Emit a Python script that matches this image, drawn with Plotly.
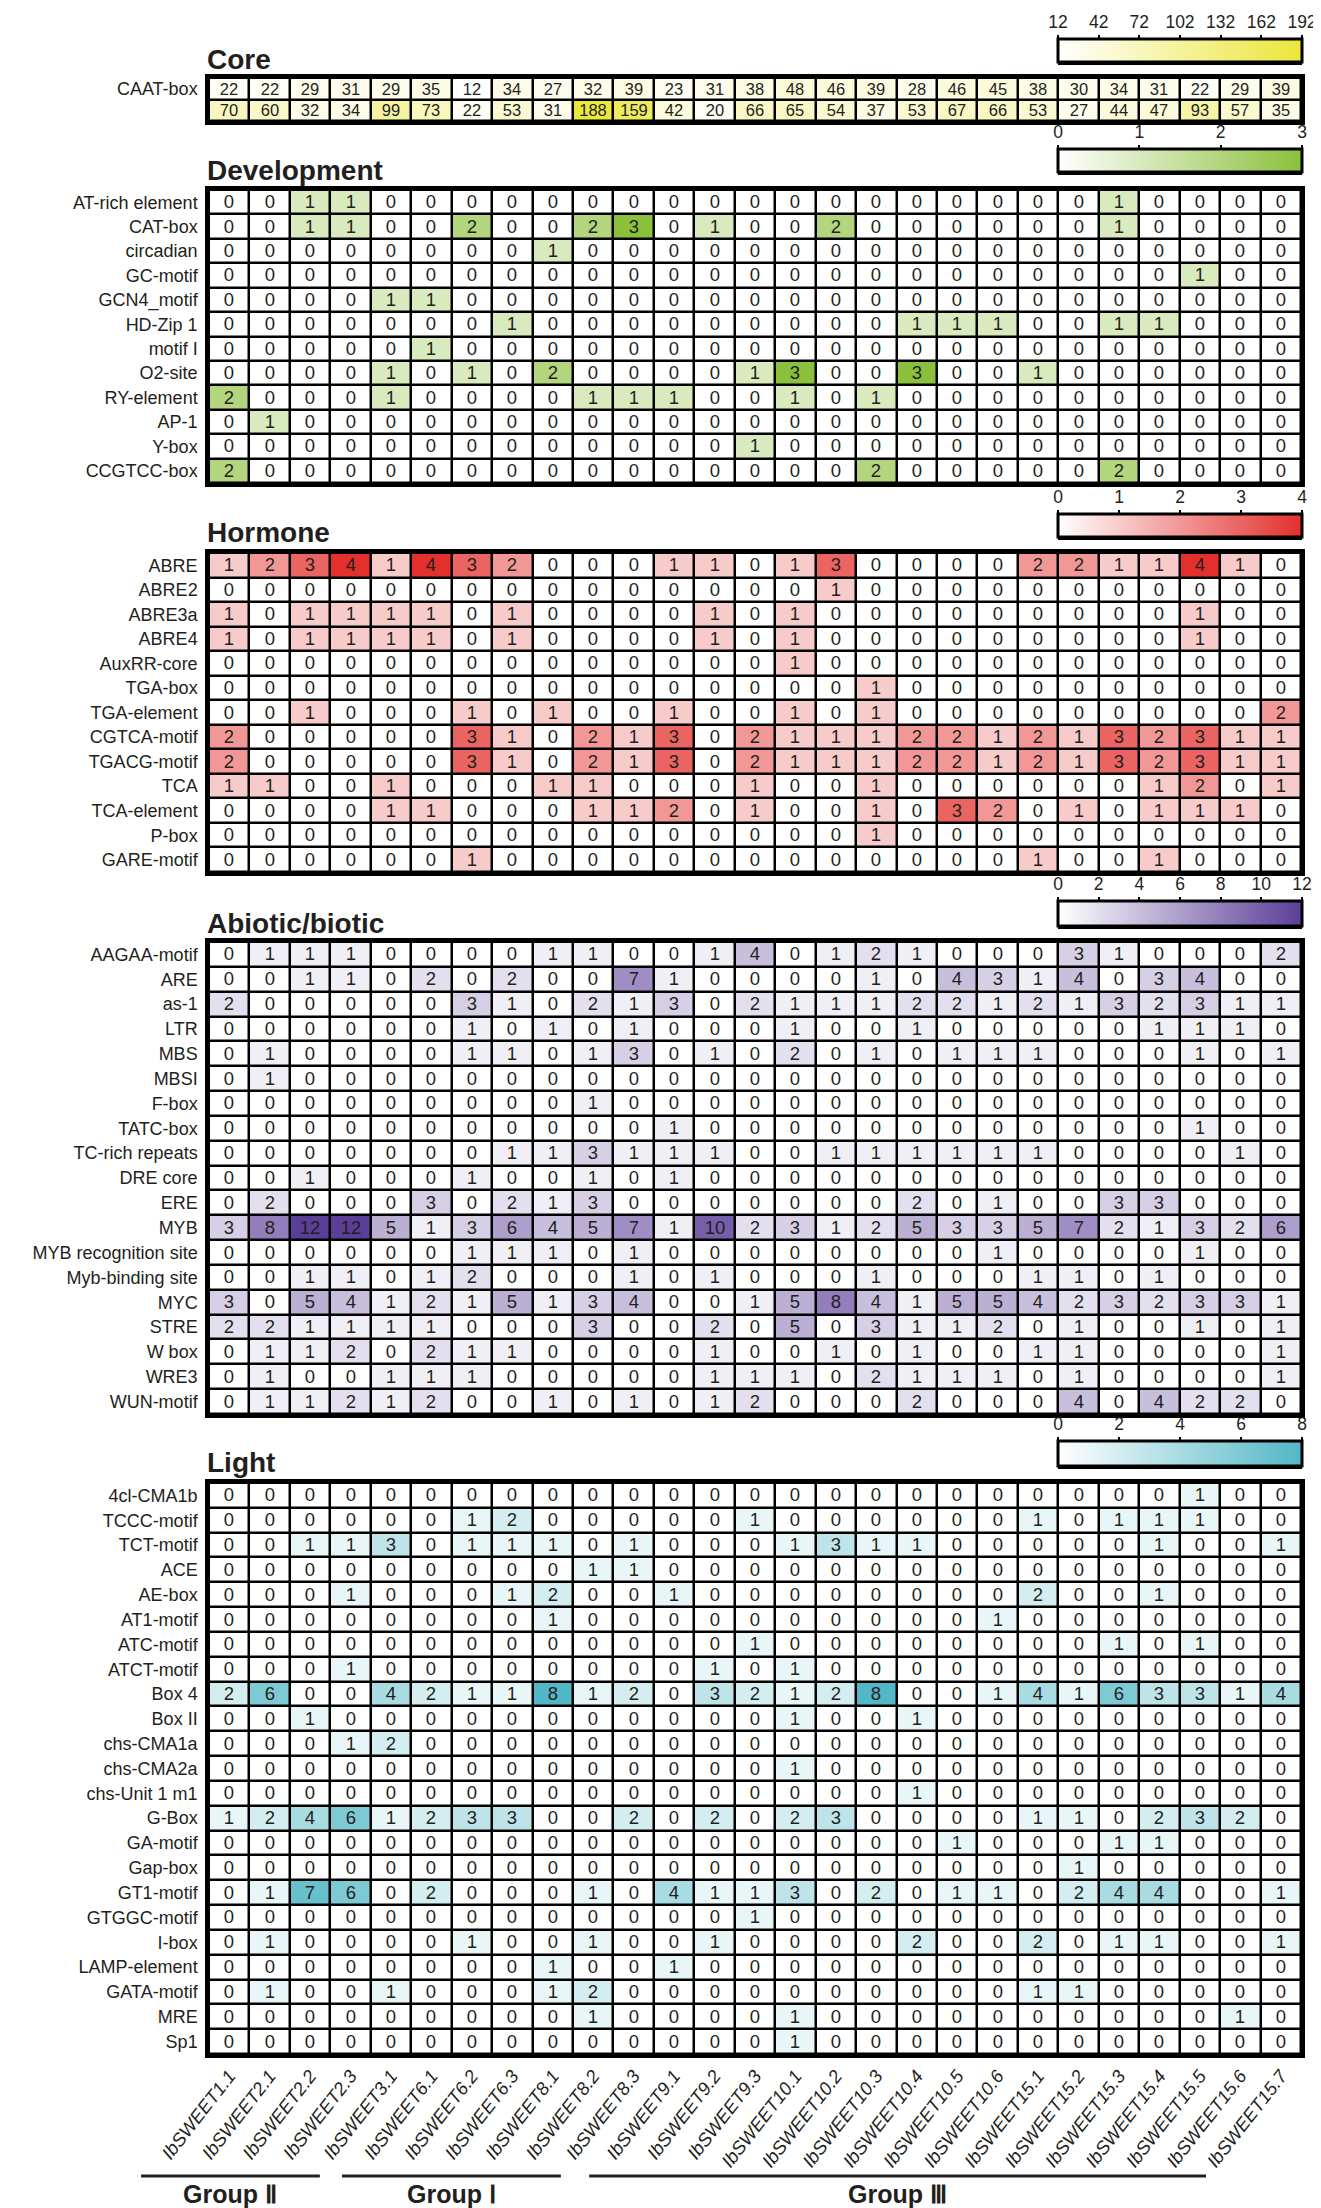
import plotly.graph_objects as go

# ---------------- data ----------------
genes = ["IbSWEET1.1", "IbSWEET2.1", "IbSWEET2.2", "IbSWEET2.3", "IbSWEET3.1", "IbSWEET6.1",
         "IbSWEET6.2", "IbSWEET6.3", "IbSWEET8.1", "IbSWEET8.2", "IbSWEET8.3", "IbSWEET9.1",
         "IbSWEET9.2", "IbSWEET9.3", "IbSWEET10.1", "IbSWEET10.2", "IbSWEET10.3", "IbSWEET10.4",
         "IbSWEET10.5", "IbSWEET10.6", "IbSWEET15.1", "IbSWEET15.2", "IbSWEET15.3", "IbSWEET15.4",
         "IbSWEET15.5", "IbSWEET15.6", "IbSWEET15.7"]

core_rows = ["CAAT-box", "TATA-box"]
core_vals = [
    [22, 22, 29, 31, 29, 35, 12, 34, 27, 32, 39, 23, 31, 38, 48, 46, 39, 28, 46, 45, 38, 30, 34, 31, 22, 29, 39],
    [70, 60, 32, 34, 99, 73, 22, 53, 31, 188, 159, 42, 20, 66, 65, 54, 37, 53, 67, 66, 53, 27, 44, 47, 93, 57, 35],
]
core_ticks = [12, 42, 72, 102, 132, 162, 192]

dev_rows = ["AT-rich element", "CAT-box", "circadian", "GC-motif", "GCN4_motif", "HD-Zip 1",
            "motif I", "O2-site", "RY-element", "AP-1", "Y-box", "CCGTCC-box"]
dev_vals = [
    [0, 0, 1, 1, 0, 0, 0, 0, 0, 0, 0, 0, 0, 0, 0, 0, 0, 0, 0, 0, 0, 0, 1, 0, 0, 0, 0],
    [0, 0, 1, 1, 0, 0, 2, 0, 0, 2, 3, 0, 1, 0, 0, 2, 0, 0, 0, 0, 0, 0, 1, 0, 0, 0, 0],
    [0, 0, 0, 0, 0, 0, 0, 0, 1, 0, 0, 0, 0, 0, 0, 0, 0, 0, 0, 0, 0, 0, 0, 0, 0, 0, 0],
    [0, 0, 0, 0, 0, 0, 0, 0, 0, 0, 0, 0, 0, 0, 0, 0, 0, 0, 0, 0, 0, 0, 0, 0, 1, 0, 0],
    [0, 0, 0, 0, 1, 1, 0, 0, 0, 0, 0, 0, 0, 0, 0, 0, 0, 0, 0, 0, 0, 0, 0, 0, 0, 0, 0],
    [0, 0, 0, 0, 0, 0, 0, 1, 0, 0, 0, 0, 0, 0, 0, 0, 0, 1, 1, 1, 0, 0, 1, 1, 0, 0, 0],
    [0, 0, 0, 0, 0, 1, 0, 0, 0, 0, 0, 0, 0, 0, 0, 0, 0, 0, 0, 0, 0, 0, 0, 0, 0, 0, 0],
    [0, 0, 0, 0, 1, 0, 1, 0, 2, 0, 0, 0, 0, 1, 3, 0, 0, 3, 0, 0, 1, 0, 0, 0, 0, 0, 0],
    [2, 0, 0, 0, 1, 0, 0, 0, 0, 1, 1, 1, 0, 0, 1, 0, 1, 0, 0, 0, 0, 0, 0, 0, 0, 0, 0],
    [0, 1, 0, 0, 0, 0, 0, 0, 0, 0, 0, 0, 0, 0, 0, 0, 0, 0, 0, 0, 0, 0, 0, 0, 0, 0, 0],
    [0, 0, 0, 0, 0, 0, 0, 0, 0, 0, 0, 0, 0, 1, 0, 0, 0, 0, 0, 0, 0, 0, 0, 0, 0, 0, 0],
    [2, 0, 0, 0, 0, 0, 0, 0, 0, 0, 0, 0, 0, 0, 0, 0, 2, 0, 0, 0, 0, 0, 2, 0, 0, 0, 0],
]
dev_ticks = [0, 1, 2, 3]

hormone_rows = ["ABRE", "ABRE2", "ABRE3a", "ABRE4", "AuxRR-core", "TGA-box", "TGA-element",
                "CGTCA-motif", "TGACG-motif", "TCA", "TCA-element", "P-box", "GARE-motif"]
hormone_vals = [
    [1, 2, 3, 4, 1, 4, 3, 2, 0, 0, 0, 1, 1, 0, 1, 3, 0, 0, 0, 0, 2, 2, 1, 1, 4, 1, 0],
    [0, 0, 0, 0, 0, 0, 0, 0, 0, 0, 0, 0, 0, 0, 0, 1, 0, 0, 0, 0, 0, 0, 0, 0, 0, 0, 0],
    [1, 0, 1, 1, 1, 1, 0, 1, 0, 0, 0, 0, 1, 0, 1, 0, 0, 0, 0, 0, 0, 0, 0, 0, 1, 0, 0],
    [1, 0, 1, 1, 1, 1, 0, 1, 0, 0, 0, 0, 1, 0, 1, 0, 0, 0, 0, 0, 0, 0, 0, 0, 1, 0, 0],
    [0, 0, 0, 0, 0, 0, 0, 0, 0, 0, 0, 0, 0, 0, 1, 0, 0, 0, 0, 0, 0, 0, 0, 0, 0, 0, 0],
    [0, 0, 0, 0, 0, 0, 0, 0, 0, 0, 0, 0, 0, 0, 0, 0, 1, 0, 0, 0, 0, 0, 0, 0, 0, 0, 0],
    [0, 0, 1, 0, 0, 0, 1, 0, 1, 0, 0, 1, 0, 0, 1, 0, 1, 0, 0, 0, 0, 0, 0, 0, 0, 0, 2],
    [2, 0, 0, 0, 0, 0, 3, 1, 0, 2, 1, 3, 0, 2, 1, 1, 1, 2, 2, 1, 2, 1, 3, 2, 3, 1, 1],
    [2, 0, 0, 0, 0, 0, 3, 1, 0, 2, 1, 3, 0, 2, 1, 1, 1, 2, 2, 1, 2, 1, 3, 2, 3, 1, 1],
    [1, 1, 0, 0, 1, 0, 0, 0, 1, 1, 0, 0, 0, 1, 0, 0, 1, 0, 0, 0, 0, 0, 0, 1, 2, 0, 1],
    [0, 0, 0, 0, 1, 1, 0, 0, 0, 1, 1, 2, 0, 1, 0, 0, 1, 0, 3, 2, 0, 1, 0, 1, 1, 1, 0],
    [0, 0, 0, 0, 0, 0, 0, 0, 0, 0, 0, 0, 0, 0, 0, 0, 1, 0, 0, 0, 0, 0, 0, 0, 0, 0, 0],
    [0, 0, 0, 0, 0, 0, 1, 0, 0, 0, 0, 0, 0, 0, 0, 0, 0, 0, 0, 0, 1, 0, 0, 1, 0, 0, 0],
]
hormone_ticks = [0, 1, 2, 3, 4]

abiotic_rows = ["AAGAA-motif", "ARE", "as-1", "LTR", "MBS", "MBSI", "F-box", "TATC-box",
                "TC-rich repeats", "DRE core", "ERE", "MYB", "MYB recognition site",
                "Myb-binding site", "MYC", "STRE", "W box", "WRE3", "WUN-motif"]
abiotic_vals = [
    [0, 1, 1, 1, 0, 0, 0, 0, 1, 1, 0, 0, 1, 4, 0, 1, 2, 1, 0, 0, 0, 3, 1, 0, 0, 0, 2],
    [0, 0, 1, 1, 0, 2, 0, 2, 0, 0, 7, 1, 0, 0, 0, 0, 1, 0, 4, 3, 1, 4, 0, 3, 4, 0, 0],
    [2, 0, 0, 0, 0, 0, 3, 1, 0, 2, 1, 3, 0, 2, 1, 1, 1, 2, 2, 1, 2, 1, 3, 2, 3, 1, 1],
    [0, 0, 0, 0, 0, 0, 1, 0, 1, 0, 1, 0, 0, 0, 1, 0, 0, 1, 0, 0, 0, 0, 0, 1, 1, 1, 0],
    [0, 1, 0, 0, 0, 0, 1, 1, 0, 1, 3, 0, 1, 0, 2, 0, 1, 0, 1, 1, 1, 0, 0, 0, 1, 0, 1],
    [0, 1, 0, 0, 0, 0, 0, 0, 0, 0, 0, 0, 0, 0, 0, 0, 0, 0, 0, 0, 0, 0, 0, 0, 0, 0, 0],
    [0, 0, 0, 0, 0, 0, 0, 0, 0, 1, 0, 0, 0, 0, 0, 0, 0, 0, 0, 0, 0, 0, 0, 0, 0, 0, 0],
    [0, 0, 0, 0, 0, 0, 0, 0, 0, 0, 0, 1, 0, 0, 0, 0, 0, 0, 0, 0, 0, 0, 0, 0, 1, 0, 0],
    [0, 0, 0, 0, 0, 0, 0, 1, 1, 3, 1, 1, 1, 0, 0, 1, 1, 1, 1, 1, 1, 0, 0, 0, 0, 1, 0],
    [0, 0, 1, 0, 0, 0, 1, 0, 0, 1, 0, 1, 0, 0, 0, 0, 0, 0, 0, 0, 0, 0, 0, 0, 0, 0, 0],
    [0, 2, 0, 0, 0, 3, 0, 2, 1, 3, 0, 0, 0, 0, 0, 0, 0, 2, 0, 1, 0, 0, 3, 3, 0, 0, 0],
    [3, 8, 12, 12, 5, 1, 3, 6, 4, 5, 7, 1, 10, 2, 3, 1, 2, 5, 3, 3, 5, 7, 2, 1, 3, 2, 6],
    [0, 0, 0, 0, 0, 0, 1, 1, 1, 0, 1, 0, 0, 0, 0, 0, 0, 0, 0, 1, 0, 0, 0, 0, 1, 0, 0],
    [0, 0, 1, 1, 0, 1, 2, 0, 0, 0, 1, 0, 1, 0, 0, 0, 1, 0, 0, 0, 1, 1, 0, 1, 0, 0, 0],
    [3, 0, 5, 4, 1, 2, 1, 5, 1, 3, 4, 0, 0, 1, 5, 8, 4, 1, 5, 5, 4, 2, 3, 2, 3, 3, 1],
    [2, 2, 1, 1, 1, 1, 0, 0, 0, 3, 0, 0, 2, 0, 5, 0, 3, 1, 1, 2, 0, 1, 0, 0, 1, 0, 1],
    [0, 1, 1, 2, 0, 2, 1, 1, 0, 0, 0, 0, 1, 0, 0, 1, 0, 1, 0, 0, 1, 1, 0, 0, 0, 0, 1],
    [0, 1, 0, 0, 1, 1, 1, 0, 0, 0, 0, 0, 1, 1, 1, 0, 2, 1, 1, 1, 0, 1, 0, 0, 0, 0, 1],
    [0, 1, 1, 2, 1, 2, 0, 0, 1, 0, 1, 0, 1, 2, 0, 0, 0, 2, 0, 0, 0, 4, 0, 4, 2, 2, 0],
]
abiotic_ticks = [0, 2, 4, 6, 8, 10, 12]

light_rows = ["4cl-CMA1b", "TCCC-motif", "TCT-motif", "ACE", "AE-box", "AT1-motif", "ATC-motif",
              "ATCT-motif", "Box 4", "Box II", "chs-CMA1a", "chs-CMA2a", "chs-Unit 1 m1", "G-Box",
              "GA-motif", "Gap-box", "GT1-motif", "GTGGC-motif", "I-box", "LAMP-element",
              "GATA-motif", "MRE", "Sp1"]
light_vals = [
    [0, 0, 0, 0, 0, 0, 0, 0, 0, 0, 0, 0, 0, 0, 0, 0, 0, 0, 0, 0, 0, 0, 0, 0, 1, 0, 0],
    [0, 0, 0, 0, 0, 0, 1, 2, 0, 0, 0, 0, 0, 1, 0, 0, 0, 0, 0, 0, 1, 0, 1, 1, 1, 0, 0],
    [0, 0, 1, 1, 3, 0, 1, 1, 1, 0, 1, 0, 0, 0, 1, 3, 1, 1, 0, 0, 0, 0, 0, 1, 0, 0, 1],
    [0, 0, 0, 0, 0, 0, 0, 0, 0, 1, 1, 0, 0, 0, 0, 0, 0, 0, 0, 0, 0, 0, 0, 0, 0, 0, 0],
    [0, 0, 0, 1, 0, 0, 0, 1, 2, 0, 0, 1, 0, 0, 0, 0, 0, 0, 0, 0, 2, 0, 0, 1, 0, 0, 0],
    [0, 0, 0, 0, 0, 0, 0, 0, 1, 0, 0, 0, 0, 0, 0, 0, 0, 0, 0, 1, 0, 0, 0, 0, 0, 0, 0],
    [0, 0, 0, 0, 0, 0, 0, 0, 0, 0, 0, 0, 0, 1, 0, 0, 0, 0, 0, 0, 0, 0, 1, 0, 1, 0, 0],
    [0, 0, 0, 1, 0, 0, 0, 0, 0, 0, 0, 0, 1, 0, 1, 0, 0, 0, 0, 0, 0, 0, 0, 0, 0, 0, 0],
    [2, 6, 0, 0, 4, 2, 1, 1, 8, 1, 2, 0, 3, 2, 1, 2, 8, 0, 0, 1, 4, 1, 6, 3, 3, 1, 4],
    [0, 0, 1, 0, 0, 0, 0, 0, 0, 0, 0, 0, 0, 0, 1, 0, 0, 1, 0, 0, 0, 0, 0, 0, 0, 0, 0],
    [0, 0, 0, 1, 2, 0, 0, 0, 0, 0, 0, 0, 0, 0, 0, 0, 0, 0, 0, 0, 0, 0, 0, 0, 0, 0, 0],
    [0, 0, 0, 0, 0, 0, 0, 0, 0, 0, 0, 0, 0, 0, 1, 0, 0, 0, 0, 0, 0, 0, 0, 0, 0, 0, 0],
    [0, 0, 0, 0, 0, 0, 0, 0, 0, 0, 0, 0, 0, 0, 0, 0, 0, 1, 0, 0, 0, 0, 0, 0, 0, 0, 0],
    [1, 2, 4, 6, 1, 2, 3, 3, 0, 0, 2, 0, 2, 0, 2, 3, 0, 0, 0, 0, 1, 1, 0, 2, 3, 2, 0],
    [0, 0, 0, 0, 0, 0, 0, 0, 0, 0, 0, 0, 0, 0, 0, 0, 0, 0, 1, 0, 0, 0, 1, 1, 0, 0, 0],
    [0, 0, 0, 0, 0, 0, 0, 0, 0, 0, 0, 0, 0, 0, 0, 0, 0, 0, 0, 0, 0, 1, 0, 0, 0, 0, 0],
    [0, 1, 7, 6, 0, 2, 0, 0, 0, 1, 0, 4, 1, 1, 3, 0, 2, 0, 1, 1, 0, 2, 4, 4, 0, 0, 1],
    [0, 0, 0, 0, 0, 0, 0, 0, 0, 0, 0, 0, 0, 1, 0, 0, 0, 0, 0, 0, 0, 0, 0, 0, 0, 0, 0],
    [0, 1, 0, 0, 0, 0, 1, 0, 0, 1, 0, 0, 1, 0, 0, 0, 0, 2, 0, 0, 2, 0, 1, 1, 0, 0, 1],
    [0, 0, 0, 0, 0, 0, 0, 0, 1, 0, 0, 1, 0, 0, 0, 0, 0, 0, 0, 0, 0, 0, 0, 0, 0, 0, 0],
    [0, 1, 0, 0, 1, 0, 0, 0, 1, 2, 0, 0, 0, 0, 0, 0, 0, 0, 0, 0, 1, 1, 0, 0, 0, 0, 0],
    [0, 0, 0, 0, 0, 0, 0, 0, 0, 1, 0, 0, 0, 0, 1, 0, 0, 0, 0, 0, 0, 0, 0, 0, 0, 1, 0],
    [0, 0, 0, 0, 0, 0, 0, 0, 0, 0, 0, 0, 0, 0, 1, 0, 0, 0, 0, 0, 0, 0, 0, 0, 0, 0, 0],
]
light_ticks = [0, 2, 4, 6, 8]

group_names = ["Group Ⅱ", "Group Ⅰ", "Group Ⅲ"]

# ---------------- layout (pixels) ----------------
W, H = 1321, 2208
GX0, GX1 = 201, 1293          # heatmap grid x extent
CBX0, CBX1 = 1050, 1294       # colour-bar x extent
FONT = "Liberation Sans, Arial, sans-serif"
INK = "#231f20"

sections = [
    dict(title="Core", rows=core_rows, vals=core_vals, color="#ebe63a", lo=12, hi=192,
         ticks=core_ticks, grid=(70, 113), cbar=(34, 57), ty=52, fs=16.5),
    dict(title="Development", rows=dev_rows, vals=dev_vals, color="#8bc03c", lo=0, hi=3,
         ticks=dev_ticks, grid=(182, 475), cbar=(144, 167), ty=162, fs=18.5),
    dict(title="Hormone", rows=hormone_rows, vals=hormone_vals, color="#e3302d", lo=0, hi=4,
         ticks=hormone_ticks, grid=(545, 864), cbar=(509, 532), ty=524, fs=18.5),
    dict(title="Abiotic/biotic", rows=abiotic_rows, vals=abiotic_vals, color="#5b3e98", lo=0, hi=12,
         ticks=abiotic_ticks, grid=(934, 1406), cbar=(896, 921), ty=915, fs=18.5),
    dict(title="Light", rows=light_rows, vals=light_vals, color="#52b7c6", lo=0, hi=8,
         ticks=light_ticks, grid=(1475, 2046), cbar=(1436, 1461), ty=1454, fs=18.5),
]


def px_x(p):
    return p / W


def px_y(p):
    return 1 - p / H


def ax_id(k):
    return "" if k == 1 else str(k)


fig = go.Figure()
layout = dict(width=W, height=H, margin=dict(l=0, r=0, t=0, b=0, pad=0), autosize=False,
              paper_bgcolor="white", plot_bgcolor="black", showlegend=False,
              font=dict(family=FONT, color=INK))
annotations = []
shapes = []
n = len(sections)

for i, s in enumerate(sections, start=1):
    scale = [[0, "#ffffff"], [1, s["color"]]]
    c0, c1 = s["cbar"]
    fig.add_trace(go.Heatmap(
        z=s["vals"], x=genes, y=s["rows"], colorscale=scale, zmin=s["lo"], zmax=s["hi"],
        xgap=2.5, ygap=2.5, texttemplate="%{z}",
        textfont=dict(size=s["fs"], color=INK, family=FONT),
        xaxis="x" + ax_id(i), yaxis="y" + ax_id(i), hoverinfo="skip",
        showscale=True,
        colorbar=dict(orientation="h", x=px_x(CBX0), xanchor="left", y=px_y(c1),
                      yanchor="bottom", len=CBX1 - CBX0, lenmode="pixels",
                      thickness=c1 - c0, thicknessmode="pixels", xpad=0, ypad=0,
                      outlinewidth=3, outlinecolor="black", showticklabels=False,
                      ticks="", borderwidth=0)))
    last = (i == n)
    xa = dict(domain=[px_x(GX0), px_x(GX1)], anchor="y" + ax_id(i),
              range=[-0.5, len(genes) - 0.5], showgrid=False, zeroline=False,
              showline=True, mirror=True, linecolor="black", linewidth=3.5, ticks="",
              showticklabels=last, fixedrange=True, automargin=False)
    if last:
        xa.update(tickmode="array", tickvals=genes,
                  ticktext=["<i>" + g + "</i>" for g in genes],
                  tickangle=-52, tickfont=dict(size=18.5, family=FONT, color=INK))
    ya = dict(domain=[px_y(s["grid"][1]), px_y(s["grid"][0])],
              anchor="x" + ax_id(i), autorange="reversed",
              showgrid=False, zeroline=False, showline=True, mirror=True,
              linecolor="black", linewidth=3.5, ticks="", fixedrange=True,
              tickfont=dict(size=18, family=FONT, color=INK),
              ticklabelstandoff=4, automargin=False)
    layout["xaxis" + ax_id(i)] = xa
    layout["yaxis" + ax_id(i)] = ya

    # tick scale above each colour bar: an empty trace keeps the aligned axes drawn
    j = i + n
    fig.add_trace(go.Scatter(x=[], y=[], mode="markers", xaxis="x" + str(j),
                             yaxis="y" + str(j), showlegend=False, hoverinfo="skip"))
    layout["xaxis" + str(j)] = dict(
        domain=[px_x(CBX0), px_x(CBX1)], anchor="y" + str(j), range=[s["lo"], s["hi"]],
        side="top", tickmode="array", tickvals=s["ticks"], ticks="outside", ticklen=6,
        tickwidth=1.5, tickcolor="black", tickfont=dict(size=17.5, family=FONT, color=INK),
        showgrid=False, zeroline=False, showline=False, fixedrange=True, automargin=False)
    layout["yaxis" + str(j)] = dict(
        domain=[px_y(c1), px_y(c0)], anchor="x" + str(j), range=[0, 1],
        showticklabels=False, showgrid=False, zeroline=False, ticks="", fixedrange=True,
        automargin=False)

    annotations.append(dict(
        text="<b>" + s["title"] + "</b>", xref="paper", yref="paper", x=px_x(GX0 - 4),
        y=px_y(s["ty"]), xanchor="left", yanchor="middle", showarrow=False,
        font=dict(size=28, family=FONT, color=INK)))

# group brackets under the slanted gene names (spans in column units)
cw = (GX1 - GX0) / len(genes)
group_spans = [(-2.18, 2.24), (2.79, 8.2), (8.9, 24.15)]
for name, (g0, g1) in zip(group_names, group_spans):
    x0 = GX0 + (g0 + 0.5) * cw
    x1 = GX0 + (g1 + 0.5) * cw
    shapes.append(dict(type="line", xref="paper", yref="paper", x0=px_x(x0), x1=px_x(x1),
                       y0=px_y(2168), y1=px_y(2168), line=dict(color=INK, width=3)))
    annotations.append(dict(text="<b>" + name + "</b>", xref="paper", yref="paper",
                            x=px_x((x0 + x1) / 2), y=px_y(2186), xanchor="center",
                            yanchor="middle", showarrow=False,
                            font=dict(size=25, family=FONT, color=INK)))

layout["annotations"] = annotations
layout["shapes"] = shapes
fig.update_layout(**layout)
fig.write_html("out.html")
